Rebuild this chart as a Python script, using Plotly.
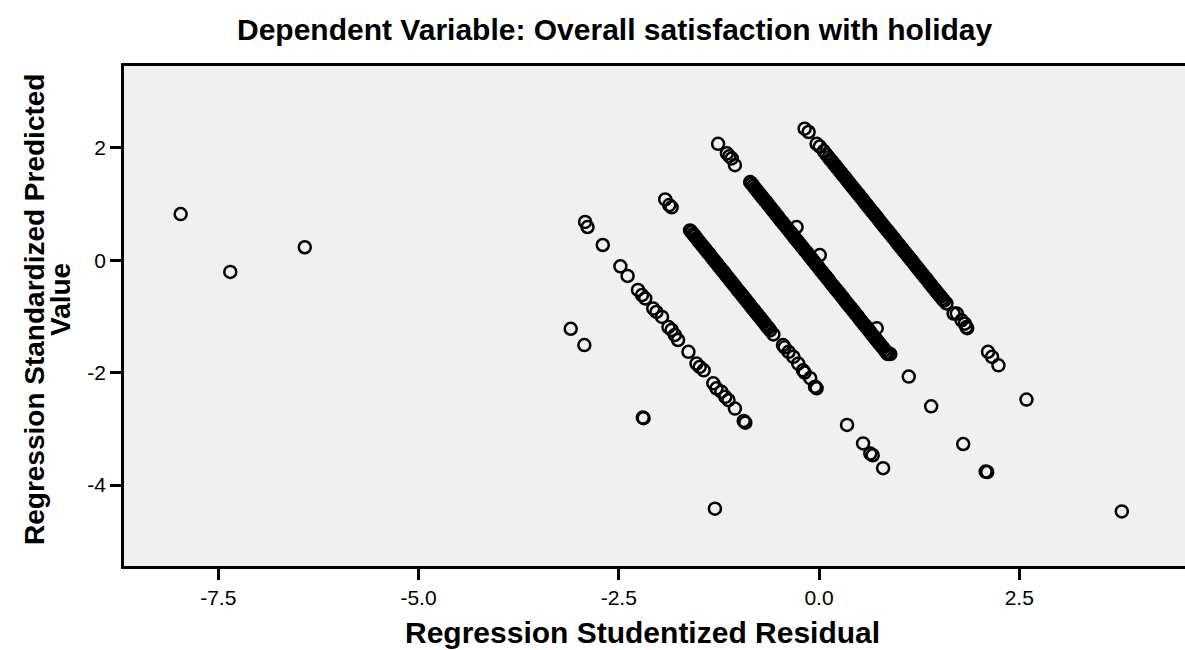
import plotly.graph_objects as go

# ---------------- data ----------------
outliers = [(-7.97, 0.82), (-7.35, -0.21), (-6.42, 0.23), (-3.10, -1.22), (-2.93, -1.51),
            (-2.20, -2.80), (-2.19, -2.81), (-1.30, -4.42), (1.12, -2.07), (1.40, -2.60),
            (2.59, -2.48), (0.35, -2.93), (0.55, -3.26), (0.64, -3.44), (0.67, -3.47),
            (0.80, -3.70), (1.80, -3.27), (2.08, -3.76), (2.10, -3.77), (3.78, -4.47)]

band1 = [(-2.92, 0.68), (-2.89, 0.59), (-2.70, 0.27), (-2.48, -0.11), (-2.39, -0.28),
         (-2.26, -0.53), (-2.21, -0.62), (-2.17, -0.68), (-2.07, -0.86), (-2.03, -0.92),
         (-1.96, -1.01), (-1.88, -1.19), (-1.84, -1.24), (-1.80, -1.33), (-1.76, -1.42),
         (-1.63, -1.63), (-1.53, -1.84), (-1.49, -1.90), (-1.44, -1.96), (-1.32, -2.19),
         (-1.28, -2.28), (-1.22, -2.34), (-1.17, -2.43), (-1.13, -2.49), (-1.05, -2.64),
         (-0.94, -2.86), (-0.92, -2.89)]

band2 = [(-1.92, 1.08), (-1.87, 0.98), (-1.84, 0.94),
         (-1.61, 0.53), (-1.59, 0.50), (-1.57, 0.46), (-1.55, 0.43), (-1.53, 0.39), (-1.51, 0.35),
         (-1.49, 0.32), (-1.47, 0.28), (-1.45, 0.25), (-1.43, 0.21), (-1.41, 0.18), (-1.39, 0.14),
         (-1.37, 0.11), (-1.35, 0.07), (-1.33, 0.03), (-1.31, 0.00), (-1.29, -0.04), (-1.27, -0.07),
         (-1.25, -0.11), (-1.23, -0.14), (-1.21, -0.18), (-1.19, -0.21), (-1.17, -0.25), (-1.15, -0.29),
         (-1.13, -0.32), (-1.11, -0.36), (-1.09, -0.39), (-1.07, -0.43), (-1.05, -0.46), (-1.03, -0.50),
         (-1.01, -0.54), (-0.99, -0.57), (-0.97, -0.61), (-0.95, -0.64), (-0.93, -0.68), (-0.91, -0.71),
         (-0.89, -0.75), (-0.87, -0.78), (-0.85, -0.82), (-0.83, -0.86), (-0.81, -0.89), (-0.79, -0.93),
         (-0.77, -0.96), (-0.75, -1.00), (-0.73, -1.03), (-0.71, -1.07), (-0.69, -1.10), (-0.67, -1.14),
         (-0.65, -1.18), (-0.63, -1.21), (-0.61, -1.25),
         (-0.57, -1.32), (-0.45, -1.51), (-0.43, -1.55), (-0.38, -1.63), (-0.32, -1.72), (-0.26, -1.84),
         (-0.20, -1.96), (-0.18, -2.00), (-0.11, -2.10), (-0.05, -2.25), (-0.03, -2.28)]

band3 = [(-1.26, 2.07), (-1.15, 1.90), (-1.12, 1.85), (-1.09, 1.81), (-1.05, 1.69),
         (-0.86, 1.39), (-0.84, 1.36), (-0.82, 1.32), (-0.80, 1.28), (-0.78, 1.25), (-0.76, 1.21),
         (-0.74, 1.18), (-0.72, 1.14), (-0.70, 1.11), (-0.68, 1.07), (-0.66, 1.04), (-0.64, 1.00),
         (-0.62, 0.96), (-0.60, 0.93), (-0.58, 0.89), (-0.56, 0.86), (-0.54, 0.82), (-0.52, 0.79),
         (-0.50, 0.75), (-0.48, 0.71), (-0.46, 0.68), (-0.44, 0.64), (-0.42, 0.61), (-0.40, 0.57),
         (-0.38, 0.54), (-0.36, 0.50), (-0.34, 0.47), (-0.32, 0.43), (-0.30, 0.39), (-0.28, 0.36),
         (-0.26, 0.32), (-0.24, 0.29), (-0.22, 0.25), (-0.20, 0.22), (-0.18, 0.18), (-0.16, 0.15),
         (-0.14, 0.11), (-0.12, 0.07), (-0.10, 0.04), (-0.08, 0.00), (-0.06, -0.03), (-0.04, -0.07),
         (-0.02, -0.10), (0.00, -0.14), (0.02, -0.18), (0.04, -0.21), (0.06, -0.25), (0.08, -0.28),
         (0.10, -0.32), (0.12, -0.35), (0.14, -0.39), (0.16, -0.43), (0.18, -0.46), (0.20, -0.50),
         (0.22, -0.53), (0.24, -0.57), (0.26, -0.60), (0.28, -0.64), (0.30, -0.67), (0.32, -0.71),
         (0.34, -0.75), (0.36, -0.78), (0.38, -0.82), (0.40, -0.85), (0.42, -0.89), (0.44, -0.92),
         (0.46, -0.96), (0.48, -0.99), (0.50, -1.03), (0.52, -1.07), (0.54, -1.10), (0.56, -1.14),
         (0.58, -1.17), (0.60, -1.21), (0.62, -1.24), (0.64, -1.28), (0.66, -1.32), (0.68, -1.35),
         (0.70, -1.39), (0.72, -1.42), (0.74, -1.46), (0.76, -1.49), (0.78, -1.53), (0.80, -1.56),
         (0.82, -1.60), (0.84, -1.64), (0.86, -1.67),
         (-0.28, 0.59), (0.01, 0.09), (0.72, -1.21), (0.87, -1.66), (0.89, -1.67)]

band4 = [(-0.18, 2.34), (-0.13, 2.28), (-0.03, 2.07), (0.01, 2.02), (0.06, 1.94), (0.09, 1.88),
         (0.12, 1.83), (0.14, 1.79), (0.16, 1.76), (0.18, 1.72), (0.20, 1.69), (0.22, 1.65),
         (0.24, 1.62), (0.26, 1.58), (0.28, 1.55), (0.30, 1.51), (0.32, 1.48), (0.34, 1.44),
         (0.36, 1.40), (0.38, 1.37), (0.40, 1.33), (0.42, 1.30), (0.44, 1.26), (0.46, 1.23),
         (0.48, 1.19), (0.50, 1.16), (0.52, 1.12), (0.54, 1.09), (0.56, 1.05), (0.58, 1.01),
         (0.60, 0.98), (0.62, 0.94), (0.64, 0.91), (0.66, 0.87), (0.68, 0.84), (0.70, 0.80),
         (0.72, 0.77), (0.74, 0.73), (0.76, 0.69), (0.78, 0.66), (0.80, 0.62), (0.82, 0.59),
         (0.84, 0.55), (0.86, 0.52), (0.88, 0.48), (0.90, 0.45), (0.92, 0.41), (0.94, 0.38),
         (0.96, 0.34), (0.98, 0.30), (1.00, 0.27), (1.02, 0.23), (1.04, 0.20), (1.06, 0.16),
         (1.08, 0.13), (1.10, 0.09), (1.12, 0.06), (1.14, 0.02), (1.16, -0.01), (1.18, -0.05),
         (1.20, -0.09), (1.22, -0.12), (1.24, -0.16), (1.26, -0.19), (1.28, -0.23), (1.30, -0.26),
         (1.32, -0.30), (1.34, -0.33), (1.36, -0.37), (1.38, -0.41), (1.40, -0.44), (1.42, -0.48),
         (1.44, -0.51), (1.46, -0.55), (1.48, -0.58), (1.50, -0.62), (1.52, -0.65), (1.54, -0.69),
         (1.56, -0.72),
         (1.59, -0.77), (1.68, -0.95), (1.72, -0.95), (1.78, -1.07), (1.82, -1.13), (1.84, -1.19),
         (1.85, -1.21), (2.11, -1.63), (2.16, -1.72), (2.24, -1.87)]

x_tickvals = [-7.5, -5.0, -2.5, 0.0, 2.5]
x_ticktext = ["-7.5", "-5.0", "-2.5", "0.0", "2.5"]
y_tickvals = [-4, -2, 0, 2]
y_ticktext = ["-4", "-2", "0", "2"]

title_text = "Dependent Variable: Overall satisfaction with holiday"
x_title = "Regression Studentized Residual"
y_title_1 = "Regression Standardized Predicted"
y_title_2 = "Value"

# ---------------- figure ----------------
W, H = 1185, 650
ML, MR, MT, MB = 124, 0, 66, 84
PW, PH = W - ML - MR, H - MT - MB

def px(xp):
    return (xp - ML) / PW

def py(yp):
    return (H - MB - yp) / PH

FONT = "Liberation Sans, Arial, sans-serif"

fig = go.Figure()
for pts in (outliers, band1, band2, band3, band4):
    xs = [p[0] for p in pts]
    ys = [p[1] for p in pts]
    fig.add_trace(go.Scatter(
        x=xs, y=ys, mode="markers", showlegend=False, hoverinfo="skip",
        marker=dict(symbol="circle-open", size=12, color="black",
                    line=dict(color="black", width=2.5)),
    ))

axis_common = dict(
    showline=True, linecolor="black", linewidth=2.5,
    ticks="outside", ticklen=11, tickwidth=2.5, tickcolor="black",
    showgrid=False, zeroline=False,
    tickfont=dict(family=FONT, size=21, color="black"),
)

fig.update_xaxes(range=[-8.677, 4.569], tickmode="array", tickvals=x_tickvals,
                 ticktext=x_ticktext, mirror=True, **axis_common)
fig.update_yaxes(range=[-5.44, 3.454], tickmode="array", tickvals=y_tickvals,
                 ticktext=y_ticktext, **axis_common)

bold = dict(family=FONT, size=30, color="black", weight="bold")
bold_y = dict(family=FONT, size=28, color="black", weight="bold")
annotations = [
    dict(text=title_text, x=px(615), y=py(30), xref="paper", yref="paper",
         showarrow=False, xanchor="center", yanchor="middle", font=bold),
    dict(text=x_title, x=px(642), y=py(632), xref="paper", yref="paper",
         showarrow=False, xanchor="center", yanchor="middle", font=bold),
    dict(text=y_title_1, x=px(34), y=py(310), xref="paper", yref="paper",
         showarrow=False, xanchor="center", yanchor="middle", textangle=-90, font=bold_y),
    dict(text=y_title_2, x=px(60), y=py(300), xref="paper", yref="paper",
         showarrow=False, xanchor="center", yanchor="middle", textangle=-90, font=bold_y),
]

fig.update_layout(
    width=W, height=H,
    margin=dict(l=ML, r=MR, t=MT, b=MB, pad=0),
    paper_bgcolor="white", plot_bgcolor="#F0F0F0",
    annotations=annotations,
    font=dict(family=FONT, color="black"),
)

fig.write_html("out.html")
